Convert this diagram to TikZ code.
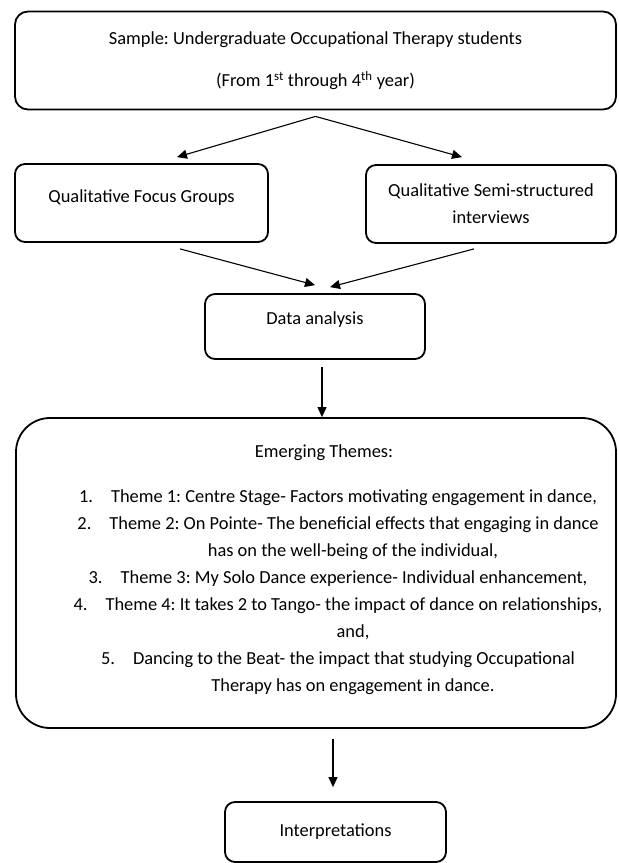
\documentclass[tikz,border=0pt]{standalone}
\usepackage{fontspec}
\setmainfont{Carlito}
\frenchspacing
\usetikzlibrary{arrows.meta,positioning}

\begin{document}
\begin{tikzpicture}[x=1pt,y=-1pt, every node/.style={font=\fontsize{18.4}{27}\selectfont,align=center,inner sep=0pt},
  p/.style={rounded corners=10pt,draw=black,line width=1.8pt},
  arr/.style={-{Triangle[length=10pt,width=9pt]},line width=1.1pt}]
  \useasboundingbox (0,0) rectangle (619,863);
  \node[p,rounded corners=13pt,minimum width=601pt,minimum height=98pt,font=\fontsize{18.4}{42}\selectfont] (sample) at (315.5,60.5) {Sample: Undergraduate Occupational Therapy students\\(From 1\textsuperscript{st} through 4\textsuperscript{th} year)};
  \node[p,minimum width=253pt,minimum height=78pt,text height=13pt,text depth=15pt] (focus) at (141.5,203) {Qualitative Focus Groups};
  \node[p,minimum width=250pt,minimum height=78pt] (semi) at (491,204) {Qualitative Semi-structured\\interviews};
  \node[p,minimum width=220pt,minimum height=65pt,text height=13pt,text depth=18pt] (analysis) at (315,326.5) {Data analysis};
  \node[p,rounded corners=34pt,minimum width=600pt,minimum height=310pt] (themes) at (316,573) {};
  \node (themetitle) at (324,453) {Emerging Themes:};
  \node (themelist) at (338,592) {1.\hspace{18pt}Theme 1: Centre Stage- Factors motivating engagement in dance,\\
    2.\hspace{18pt}Theme 2: On Pointe- The beneficial effects that engaging in dance\\
    \hspace*{30pt}has on the well-being of the individual,\\
    3.\hspace{18pt}Theme 3: My Solo Dance experience- Individual enhancement,\\
    4.\hspace{18pt}Theme 4: It takes 2 to Tango- the impact of dance on relationships,\\
    \hspace*{30pt}and,\\
    5.\hspace{18pt}Dancing to the Beat- the impact that studying Occupational\\
    \hspace*{30pt}Therapy has on engagement in dance.};
  \node[p,minimum width=221pt,minimum height=60pt] (interp) at (335.5,832) {Interpretations};
  \draw[arr] ([yshift=-6pt]sample.south) -- ([shift={(35.5pt,6pt)}]focus.north);
  \draw[arr] ([yshift=-6pt]sample.south) -- ([shift={(-29pt,7pt)}]semi.north);
  \draw[arr] ([shift={(38.5pt,-6pt)}]focus.south) -- ([yshift=8pt]analysis.north);
  \draw[arr] ([shift={(-17pt,-5pt)}]semi.south) -- ([shift={(15pt,6pt)}]analysis.north);
  \draw[arr] ([shift={(7pt,-7pt)}]analysis.south) -- ([xshift=6pt]themes.north);
  \draw[arr] ([shift={(17pt,-10pt)}]themes.south) -- ([shift={(-2.5pt,14pt)}]interp.north);
\end{tikzpicture}
\end{document}
